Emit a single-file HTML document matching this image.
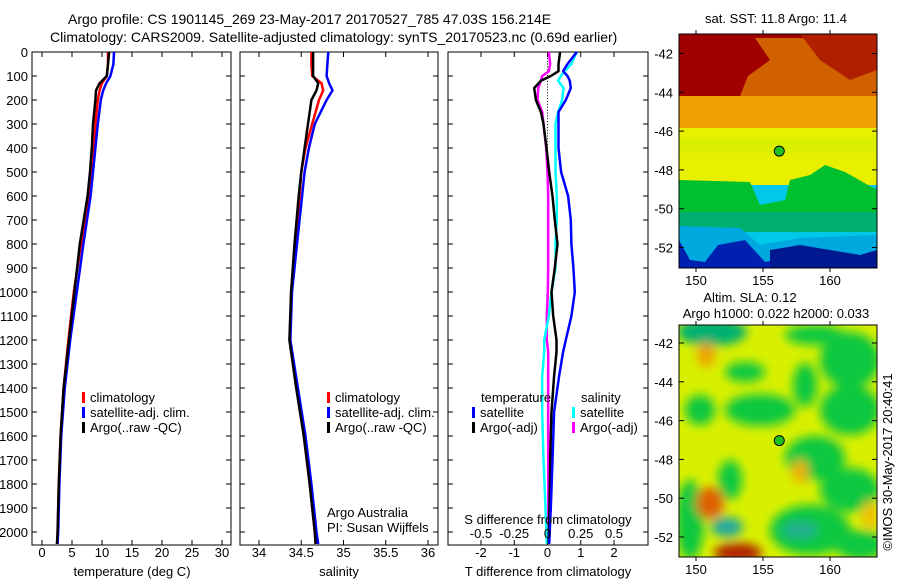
<!DOCTYPE html>
<html><head><meta charset="utf-8"><style>
html,body{margin:0;padding:0;background:#fff;}
svg{display:block;font-family:"Liberation Sans",sans-serif;}
</style></head><body>
<svg id="fig" width="900" height="580" viewBox="0 0 900 580">
<defs>
<filter id="blur" x="-20%" y="-20%" width="140%" height="140%"><feGaussianBlur stdDeviation="5"/></filter>
<clipPath id="clipTop"><rect x="679" y="34" width="198" height="234"/></clipPath>
<clipPath id="clipBot"><rect x="679" y="325" width="198" height="232"/></clipPath>
</defs>
<text x="68" y="24" font-size="14">Argo profile: CS 1901145_269 23-May-2017 20170527_785 47.03S 156.214E</text>
<text x="50" y="42" font-size="14">Climatology: CARS2009. Satellite-adjusted climatology: synTS_20170523.nc (0.69d earlier)</text>
<g id="panels"></g>
<g id="maps"></g>
</svg>
<script>
// ---- data ----
const depths = [0,50,100,130,160,200,300,400,500,600,800,1000,1200,1400,1600,1800,2000,2050];
const tempClim = [11,11,10.8,10,9.6,9.3,8.9,8.6,8.2,7.8,6.5,5.3,4.4,3.6,3.1,2.8,2.6,2.5];
const tempSat  = [12,11.9,11.4,10.7,10.2,9.8,9.3,8.9,8.5,8.1,6.9,5.8,4.7,3.8,3.2,2.9,2.7,2.6];
const tempArgo = [11.2,11,10.8,9.6,9,8.9,8.5,8.3,8,7.6,6.3,5.4,4.5,3.6,3.1,2.8,2.6,2.5];
const salClim = [34.62,34.62,34.63,34.74,34.76,34.71,34.63,34.55,34.5,34.48,34.43,34.38,34.37,34.45,34.53,34.6,34.66,34.67];
const salSat  = [34.82,34.81,34.8,34.83,34.87,34.8,34.66,34.59,34.54,34.51,34.45,34.39,34.37,34.46,34.55,34.62,34.68,34.7];
const salArgo = [34.64,34.64,34.64,34.7,34.68,34.62,34.58,34.54,34.5,34.47,34.42,34.38,34.36,34.44,34.53,34.6,34.66,34.67];
const diffDepths = [0,50,80,100,120,150,200,250,300,400,500,600,700,800,900,1000,1100,1200,1250,1350,1500,1700,1900,2050];
const tDiffSat  = [0.88,0.6,0.47,0.6,0.67,0.7,0.55,0.33,0.33,0.33,0.41,0.62,0.7,0.72,0.78,0.82,0.72,0.55,0.47,0.35,0.2,0.15,0.1,0.05];
const tDiffArgo = [0.38,0.33,0.33,0.1,-0.2,-0.4,-0.35,-0.2,-0.12,-0.03,0.05,0.15,0.22,0.3,0.22,0.12,0.17,0.27,0.27,0.2,0.12,0.08,0.06,0.03];
const sDiffSat  = [0.22,0.18,0.13,0.1,0.08,0.12,0.11,0.08,0.06,0.06,0.06,0.07,0.07,0.06,0.06,0.03,0.01,-0.025,-0.025,-0.04,-0.04,-0.03,-0.015,-0.005];
const sDiffArgo = [0.01,0.02,0.01,-0.04,-0.05,-0.07,-0.075,-0.04,-0.03,-0.01,0,0.005,0.005,0.005,0.005,0.002,-0.005,-0.005,0.005,0.005,0.005,0.005,0.006,0.01];
const depthTicks = [0,100,200,300,400,500,600,700,800,900,1000,1100,1200,1300,1400,1500,1600,1700,1800,1900,2000];
const tempTicks = [0,5,10,15,20,25,30];
const salTicks = [34,34.5,35,35.5,36];
const tDiffTicks = [-2,-1,0,1,2];
const sDiffTicks = [-0.5,-0.25,0,0.25,0.5];
const latTicks = [-42,-44,-46,-48,-50,-52];
const lonTicks = [150,155,160];
const argoLon = 156.214, argoLat = -47.03;

// ---- scales ----
const NS='http://www.w3.org/2000/svg';
const yD = d => 52 + d*0.24;
const xT = v => 42 + v*6;
const xS = v => 259 + (v-34)*84.5;
const xTD = v => 547.5 + v*33.25;
const xSD = v => 547.5 + v*133;
function el(tag, attrs, parent, txt){const e=document.createElementNS(NS,tag);for(const k in attrs)e.setAttribute(k,attrs[k]);if(txt!==undefined)e.textContent=txt;parent.appendChild(e);return e;}
const P=document.getElementById('panels');

function panel(x0,x1,name){
  const r=el('rect',{x:x0,y:52,width:x1-x0,height:493,fill:'none',stroke:'#000','stroke-width':1},P);
  
  
  depthTicks.forEach(d=>{
    el('line',{x1:x0,x2:x0+5,y1:yD(d),y2:yD(d),stroke:'#000'},P);
    el('line',{x1:x1-5,x2:x1,y1:yD(d),y2:yD(d),stroke:'#000'},P);
  });
}
function xticks(ticks,sc,fmt,name,labY){
  ticks.forEach(t=>{
    const x=sc(t);
    el('line',{x1:x,x2:x,y1:52,y2:57,stroke:'#000'},P);
    el('line',{x1:x,x2:x,y1:540,y2:545,stroke:'#000'},P);
    const tx=el('text',{x:x,y:labY,'font-size':13,'text-anchor':'middle'},P,fmt(t));
    
    
  });
}
function line(xs,ds,sc,color,name){
  const pts=xs.map((v,i)=>sc(v).toFixed(1)+','+yD(ds[i]).toFixed(1)).join(' ');
  const p=el('polyline',{points:pts,fill:'none',stroke:color,'stroke-width':2.5,'stroke-linejoin':'round'},P);
  
  
}
function legend(x,y,color,label,name){
  el('rect',{x:x,y:y-10,width:3,height:11,fill:color},P);
  const t=el('text',{x:x+8,y:y,'font-size':13},P,label);
  
  
}
depthTicks.forEach(d=>{
  const t=el('text',{x:28,y:yD(d)+5,'font-size':13,'text-anchor':'end'},P,String(d));
  
  
});
// panel 1 temperature
panel(32,231,'temperature-panel');
xticks(tempTicks,xT,String,'temperature',557);
line(tempClim,depths,xT,'#f00','temperature-climatology-line');
line(tempSat,depths,xT,'#00f','temperature-satellite-line');
line(tempArgo,depths,xT,'#000','temperature-argo-line');
legend(82,402,'#f00','climatology','legend-climatology');
legend(82,417,'#00f','satellite-adj. clim.','legend-satellite');
legend(82,432,'#000','Argo(..raw -QC)','legend-argo');
let t=el('text',{x:132,y:576,'font-size':13,'text-anchor':'middle'},P,'temperature (deg C)');

// panel 2 salinity
panel(240,438,'salinity-panel');
xticks(salTicks,xS,v=>Number.isInteger(v)?String(v):v.toFixed(1),'salinity',557);
line(salClim,depths,xS,'#f00','salinity-climatology-line');
line(salSat,depths,xS,'#00f','salinity-satellite-line');
line(salArgo,depths,xS,'#000','salinity-argo-line');
legend(327,402,'#f00','climatology','legend-climatology-2');
legend(327,417,'#00f','satellite-adj. clim.','legend-satellite-2');
legend(327,432,'#000','Argo(..raw -QC)','legend-argo-2');
t=el('text',{x:327,y:517,'font-size':13},P,'Argo Australia');
t=el('text',{x:327,y:532,'font-size':13},P,'PI: Susan Wijffels');
t=el('text',{x:339,y:576,'font-size':13,'text-anchor':'middle'},P,'salinity');
// panel 3 differences
panel(448,648,'difference-panel');
for(let d=0;d<=2050;d+=12){el('rect',{x:547,y:yD(d),width:1,height:1,fill:'#000'},P);}
tDiffTicks.forEach(v=>{
  const x=xTD(v);
  el('line',{x1:x,x2:x,y1:540,y2:545,stroke:'#000'},P);
  el('line',{x1:x,x2:x,y1:52,y2:57,stroke:'#000'},P);
  t=el('text',{x:x,y:557,'font-size':13,'text-anchor':'middle'},P,String(v));
  
});
line(sDiffArgo,diffDepths,xSD,'#f0f','salinity-argo-diff-line');
line(sDiffSat,diffDepths,xSD,'#0ff','salinity-satellite-diff-line');
line(tDiffArgo,diffDepths,xTD,'#000','temperature-argo-diff-line');
line(tDiffSat,diffDepths,xTD,'#00f','temperature-satellite-diff-line');
sDiffTicks.forEach(v=>{
  t=el('text',{x:xSD(v),y:538,'font-size':13,'text-anchor':'middle'},P,String(v));
  
});
t=el('text',{x:481,y:402,'font-size':13},P,'temperature');
t=el('text',{x:581,y:402,'font-size':13},P,'salinity');
legend(472,417,'#00f','satellite','legend-t-satellite');
legend(472,432,'#000','Argo(-adj)','legend-t-argo');
legend(572,417,'#0ff','satellite','legend-s-satellite');
legend(572,432,'#f0f','Argo(-adj)','legend-s-argo');
t=el('text',{x:548,y:524,'font-size':13,'text-anchor':'middle'},P,'S difference from climatology');
t=el('text',{x:548,y:576,'font-size':13,'text-anchor':'middle'},P,'T difference from climatology');

// ---- maps ----
const M=document.getElementById('maps');
function mapAxes(top,bot,lat42,name){
  const yl=l=>lat42+(-42-l)*19.4;
  const xl=l=>696+(l-150)*13.4;
  el('rect',{x:679,y:top,width:198,height:bot-top,fill:'none',stroke:'#000'},M);
  latTicks.forEach(l=>{
    el('line',{x1:679,x2:684,y1:yl(l),y2:yl(l),stroke:'#000'},M);
    el('line',{x1:872,x2:877,y1:yl(l),y2:yl(l),stroke:'#000'},M);
    const tx=el('text',{x:673,y:yl(l)+5,'font-size':13,'text-anchor':'end'},M,String(l));
    
  });
  lonTicks.forEach(l=>{
    el('line',{x1:xl(l),x2:xl(l),y1:top-4,y2:top,stroke:'#000'},M);
    el('line',{x1:xl(l),x2:xl(l),y1:bot,y2:bot+4,stroke:'#000'},M);
    const tx=el('text',{x:xl(l),y:bot+17,'font-size':13,'text-anchor':'middle'},M,String(l));
    
  });
  const c=el('circle',{cx:xl(argoLon),cy:yl(argoLat),r:5,fill:'#20c020',stroke:'#000','stroke-width':1},M);
  
}
M.innerHTML += `
<g clip-path="url(#clipTop)">
 <rect x="679" y="34" width="198" height="234" fill="#00c8e8"/>
 <rect x="679" y="34" width="198" height="70" fill="#a00000"/>
 <polygon points="755,38 877,38 877,128 679,128 679,96 740,96 748,76 770,60" fill="#d06000"/>
 <polygon points="800,34 877,34 877,70 850,80 820,60" fill="#b02000"/>
 <rect x="679" y="96" width="198" height="32" fill="#f0a000"/>
 <rect x="679" y="128" width="198" height="57" fill="#e8f000"/>
 <rect x="679" y="138" width="198" height="15" fill="#d0f000" opacity="0.6"/>
 <polygon points="679,180 750,182 760,205 785,200 790,180 810,175 825,165 845,172 877,190 877,220 679,220" fill="#00c030"/>
 <rect x="679" y="212" width="198" height="20" fill="#00b070"/>
 <polygon points="679,226 740,228 760,245 800,238 877,235 877,268 679,268" fill="#00a8e0"/>
 <polygon points="679,240 690,260 705,262 718,245 745,240 765,262 800,255 840,262 877,258 877,268 679,268" fill="#0020b0"/>
 <polygon points="770,250 800,245 830,250 860,255 877,250 877,268 770,268" fill="#001890"/>
</g>
<g clip-path="url(#clipBot)">
 <rect x="679" y="325" width="198" height="232" fill="#d8f000"/>
 <g filter="url(#blur)">
  <ellipse cx="712" cy="332" rx="35" ry="14" fill="#00b070"/>
  <ellipse cx="815" cy="335" rx="30" ry="10" fill="#10c840"/>
  <ellipse cx="850" cy="360" rx="30" ry="28" fill="#10c840"/>
  <ellipse cx="760" cy="410" rx="35" ry="16" fill="#10c840"/>
  <ellipse cx="745" cy="372" rx="20" ry="10" fill="#10c840"/>
  <ellipse cx="805" cy="385" rx="12" ry="22" fill="#10c840"/>
  <ellipse cx="850" cy="410" rx="30" ry="25" fill="#10c840"/>
  <ellipse cx="700" cy="410" rx="15" ry="15" fill="#10c840"/>
  <ellipse cx="815" cy="458" rx="30" ry="22" fill="#10c840"/>
  <ellipse cx="850" cy="490" rx="30" ry="22" fill="#10c840"/>
  <ellipse cx="730" cy="480" rx="12" ry="20" fill="#10c840"/>
  <ellipse cx="690" cy="520" rx="14" ry="40" fill="#10c840"/>
  <ellipse cx="810" cy="530" rx="40" ry="25" fill="#10c840"/>
  <ellipse cx="860" cy="545" rx="25" ry="15" fill="#10c840"/>
  <ellipse cx="727" cy="527" rx="16" ry="10" fill="#20a8a0"/>
  <ellipse cx="800" cy="530" rx="18" ry="9" fill="#20b090"/>
  <ellipse cx="710" cy="503" rx="14" ry="16" fill="#e06000"/>
  <ellipse cx="738" cy="553" rx="24" ry="10" fill="#b02000"/>
  <ellipse cx="706" cy="355" rx="9" ry="12" fill="#f0a000"/>
  <ellipse cx="800" cy="472" rx="8" ry="12" fill="#f0b000"/>
  <ellipse cx="870" cy="515" rx="8" ry="14" fill="#f0c000"/>
 </g>
</g>`;
mapAxes(34,268,53.5,'sst-map');
mapAxes(325,557,343,'sla-map');
t=el('text',{x:776,y:23,'font-size':13,'text-anchor':'middle'},M,'sat. SST: 11.8 Argo: 11.4');
t=el('text',{x:750,y:302,'font-size':13,'text-anchor':'middle'},M,'Altim. SLA: 0.12');
t=el('text',{x:776,y:318,'font-size':13,'text-anchor':'middle'},M,'Argo h1000: 0.022 h2000: 0.033');
t=el('text',{x:0,y:0,'font-size':13,'text-anchor':'middle',transform:'translate(892,462) rotate(-90)'},M,'©IMOS 30-May-2017 20:40:41');
</script>
</body></html>
